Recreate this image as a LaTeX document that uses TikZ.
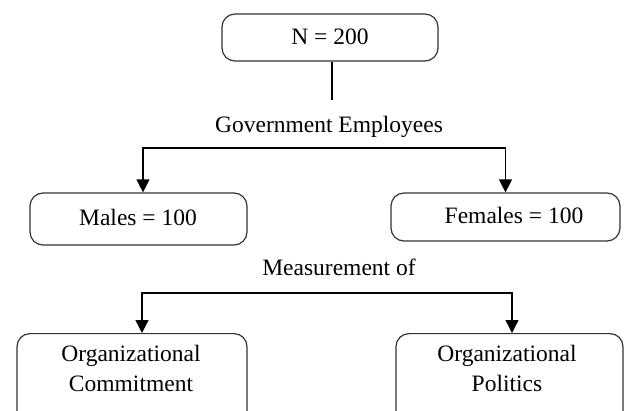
\documentclass[tikz,border=0pt]{standalone}
\usepackage{fontspec}
\setmainfont{Liberation Serif}
\usetikzlibrary{arrows.meta,calc}
\begin{document}
\begin{tikzpicture}[x=1pt,y=-1pt,
  box/.style={draw=black!80, line width=1.2pt, rounded corners=13pt, inner sep=0pt},
  lbl/.style={font=\fontsize{23.5}{30}\selectfont, inner sep=0pt, align=center},
  conn/.style={line width=1.3pt, -{Triangle[width=13pt,length=13pt]}},
  plain/.style={line width=1.3pt}]
\useasboundingbox (0,0) rectangle (624,410);
\clip (0,0) rectangle (624,410);
% boxes
\node (top) [box, minimum width=216pt, minimum height=47pt] at (330,37.5) {};
\node (topt) [lbl] at (330,37) {N = 200};
\node (gov) [lbl] at (329,127) {Government Employees};
\node (males) [box, minimum width=217pt, minimum height=52pt] at (138.5,219) {};
\node (malest) [lbl] at (138,217) {Males = 100};
\node (females) [box, minimum width=229pt, minimum height=48pt] at (505.5,217) {};
\node (femalest) [lbl] at (514,215) {Females = 100};
\node (meas) [lbl] at (339,267) {Measurement of};
\node (oc) [box, minimum width=230pt, minimum height=120pt, anchor=north] at (132,333) {};
\node (oct) [lbl, anchor=north] at (131,345) {Organizational\\Commitment};
\node (op) [box, minimum width=227pt, minimum height=120pt, anchor=north] at (509.5,333) {};
\node (opt) [lbl, anchor=north] at (507,345) {Organizational\\Politics};
% connectors
\coordinate (v1) at (332,100);
\draw[plain] (top.south -| v1) -- (v1);
\coordinate (h1) at (330,148);
\draw[conn] (h1) -| ([xshift=4.5pt]males.north);
\draw[conn] (h1) -| (females.north);
\coordinate (h2) at (330,293);
\draw[conn] (h2) -| ([xshift=10pt]oc.north);
\draw[conn] (h2) -| ([xshift=2.5pt]op.north);
\end{tikzpicture}
\end{document}
